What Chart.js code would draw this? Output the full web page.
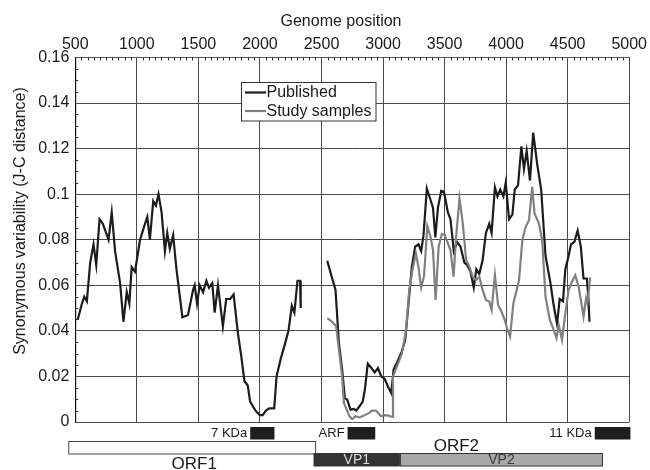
<!DOCTYPE html>
<html><head><meta charset="utf-8">
<script src="https://cdn.jsdelivr.net/npm/chart.js@4.4.0/dist/chart.umd.min.js"></script>
<style>html,body{margin:0;padding:0;background:#fff;}#wrap{width:650px;height:470px;}</style>
</head><body><div id="wrap"><canvas id="c" width="650" height="470"></canvas></div>
<script>
const FONT = '"Liberation Sans", Arial, Helvetica, sans-serif';
const xTitle = 'Genome position';
const yTitle = 'Synonymous variability (J-C distance)';
const seriesNames = ['Published', 'Study samples'];

const publishedPos = [519,554,573,594,621,648,670,697,724,770,
796,823,864,891,918,939,958,985,1026,1066,
1085,1106,1133,1155,1176,1201,1228,1247,1268,1295,
1322,1370,1416,1457,1470,1489,1511,1538,1565,1586,
1613,1632,1659,1699,1726,1759,1786,1821,1848,1874,
1901,1920,1941,1968,2000,2022,2049,2075,2116,2135,
2170,2197,2232,2259,2280,2305,2326,2331,2440,2547,
2582,2614,2641,2668,2690,2709,2736,2763,2782,2809,
2835,2852,2876,2906,2932,2959,2986,3013,3040,3067,
3086,3113,3153,3180,3207,3234,3261,3288,3310,3329,
3356,3383,3406,3425,3446,3473,3495,3527,3548,3575,
3602,3629,3661,3683,3710,3737,3758,3782,3809,3836,
3863,3882,3909,3930,3952,3978,3997,4024,4051,4070,
4097,4124,4145,4167,4194,4220,4253,4285,4320,4360,
4387,4414,4435,4462,4481,4508,4527,4554,4581,4607,
4629,4656,4669,4677];
const publishedVal = [.0448,.052,.055,.053,.070,.078,.069,.089,.087,.080,
.092,.075,.061,.044,.057,.052,.068,.066,.080,.087,
.090,.080,.097,.095,.100,.092,.075,.083,.076,.082,
.067,.046,.047,.058,.060,.052,.060,.057,.062,.059,
.061,.048,.060,.042,.054,.054,.056,.039,.029,.018,
.016,.009,.007,.0047,.003,.003,.005,.006,.006,.020,
.028,.033,.040,.051,.048,.062,.062,.050,null,.0708,
.064,.058,.035,.023,.0105,.0098,.0054,.0057,.005,.0069,
.009,.014,.0256,.0237,.0218,.0237,.020,.019,.0156,.0127,
.023,.026,.031,.036,.052,.068,.077,.078,.075,.082,
.1025,.098,.094,.081,.094,.1015,.101,.092,.089,.075,
.079,.077,.070,.069,.066,.059,.067,.065,.071,.083,
.087,.083,.103,.099,.102,.099,.105,.089,.091,.102,
.104,.121,.111,.119,.106,.127,.113,.102,.073,.061,
.051,.043,.054,.053,.067,.073,.078,.079,.084,.077,
.063,.063,.054,.044];

const studyPos = [2547,2587,2619,2641,2668,2682,2701,2728,2749,2776,
2809,2844,2884,2911,2943,2965,2986,3013,3046,3073,
3081,3113,3153,3186,3213,3240,3267,3288,3310,3333,
3360,3387,3406,3427,3452,3478,3500,3527,3548,3573,
3594,3621,3648,3675,3702,3728,3755,3782,3809,3836,
3863,3882,3909,3935,3962,3989,4011,4032,4059,4086,
4105,4132,4159,4186,4212,4231,4266,4293,4320,4355,
4387,4409,4427,4454,4481,4508,4535,4562,4589,4616,
4629,4650,4661,4683];
const studyVal = [.0456,.044,.042,.032,.020,.0083,.006,.0025,.0013,.0025,
.002,.0028,.0039,.005,.005,.0036,.0025,.003,.0028,.0022,
.020,.0244,.030,.040,.058,.067,.074,.068,.059,.064,
.086,.081,.0755,.0536,.077,.0825,.0823,.0784,.0755,.0638,
.0813,.0981,.0872,.0711,.0682,.0638,.0623,.0638,.058,.0536,
.0529,.0492,.0645,.0514,.0485,.0448,.0404,.0375,.0521,.058,
.0623,.0799,.0857,.0886,.1032,.0915,.0872,.0799,.055,.0448,
.0404,.0368,.0426,.0361,.0477,.058,.0616,.0644,.0594,.0507,
.0463,.0543,.0521,.0635];

// genome features (genome coordinates)
const proteinNames = ['7 KDa', 'ARF', '11 KDa'];
const proteinStart = [1921, 2712, 4720];
const proteinEnd = [2118, 2937, 5010];
const orf1Name = 'ORF1';
const orf1Span = [443, 2456];
const orf2Name = 'ORF2';
const capsidNames = ['VP1', 'VP2'];
const capsidStart = [2437, 3137];
const capsidEnd = [3137, 4787];

const toPts = (xs, ys) => xs.map((x, i) => ({x: x, y: ys[i]}));

const extras = {
  id: 'extras',
  afterDraw(chart) {
    const ctx = chart.ctx, a = chart.chartArea, xs = chart.scales.x, ys = chart.scales.y;
    ctx.save();
    // minor ticks
    ctx.strokeStyle = '#333'; ctx.lineWidth = 1;
    ctx.beginPath();
    for (let g = 550; g < 5000; g += 50) {
      if (g % 500 === 0) continue;
      const px = Math.round(xs.getPixelForValue(g)) + 0.5;
      ctx.moveTo(px, a.top); ctx.lineTo(px, a.top + 3);
    }
    for (let k = 1; k < 32; k++) {
      if (k % 4 === 0) continue;
      const py = Math.round(ys.getPixelForValue(k * 0.005)) + 0.5;
      ctx.moveTo(a.left, py); ctx.lineTo(a.left + 3, py);
    }
    ctx.stroke();
    // titles
    ctx.fillStyle = '#1a1a1a';
    ctx.font = '16px ' + FONT;
    ctx.textAlign = 'center'; ctx.textBaseline = 'alphabetic';
    ctx.fillText(xTitle, 341, 26);
    ctx.save();
    ctx.translate(21, 221);
    ctx.rotate(-Math.PI / 2);
    ctx.textBaseline = 'middle';
    ctx.fillText(yTitle, 0, 0);
    ctx.restore();
    // legend
    const lx = 241.5, ly = 82.5, lw = 134.5, lh = 38.5;
    ctx.fillStyle = '#fff'; ctx.fillRect(lx, ly, lw, lh);
    ctx.strokeStyle = '#333'; ctx.lineWidth = 1; ctx.strokeRect(lx, ly, lw, lh);
    const ds = chart.data.datasets;
    [92.5, 111].forEach((yy, i) => {
      ctx.strokeStyle = ds[i].borderColor; ctx.lineWidth = 2.2;
      ctx.beginPath(); ctx.moveTo(245, yy); ctx.lineTo(266, yy); ctx.stroke();
      ctx.fillStyle = '#1a1a1a'; ctx.font = '16px ' + FONT;
      ctx.textAlign = 'left'; ctx.textBaseline = 'middle';
      ctx.fillText(ds[i].label, 266.5, yy + 0.5);
    });
    // protein boxes
    ctx.font = '13px ' + FONT;
    proteinNames.forEach((n, i) => {
      const x0 = xs.getPixelForValue(proteinStart[i]), x1 = xs.getPixelForValue(proteinEnd[i]);
      ctx.fillStyle = '#1e1e1e'; ctx.fillRect(x0, 427, x1 - x0, 12.5);
      ctx.fillStyle = '#1a1a1a'; ctx.textAlign = 'right'; ctx.textBaseline = 'middle';
      ctx.fillText(n, x0 - 3, 433.5);
    });
    // ORF1
    const o0 = xs.getPixelForValue(orf1Span[0]), o1 = xs.getPixelForValue(orf1Span[1]);
    ctx.fillStyle = '#fff'; ctx.fillRect(o0, 441.5, o1 - o0, 12.5);
    ctx.strokeStyle = '#444'; ctx.lineWidth = 1; ctx.strokeRect(o0 + 0.5, 441.5, o1 - o0 - 1, 12.5);
    ctx.fillStyle = '#1a1a1a'; ctx.font = '17px ' + FONT; ctx.textAlign = 'center'; ctx.textBaseline = 'alphabetic';
    ctx.fillText(orf1Name, (o0 + o1) / 2 + 2, 469);
    // capsid
    const cFill = ['#333333', '#a8a8a8'], cText = ['#d8d8d8', '#3a3a3a'];
    capsidNames.forEach((n, i) => {
      const x0 = xs.getPixelForValue(capsidStart[i]), x1 = xs.getPixelForValue(capsidEnd[i]);
      ctx.fillStyle = cFill[i]; ctx.fillRect(x0, 453.5, x1 - x0, 12.5);
      ctx.strokeStyle = '#333'; ctx.lineWidth = 1; ctx.strokeRect(x0 + 0.5, 453.5, x1 - x0 - 1, 12.5);
      ctx.fillStyle = cText[i]; ctx.font = '14px ' + FONT; ctx.textAlign = 'center'; ctx.textBaseline = 'middle';
      ctx.fillText(n, (x0 + x1) / 2, 460.5);
    });
    const c0 = xs.getPixelForValue(capsidStart[0]), c1 = xs.getPixelForValue(capsidEnd[1]);
    ctx.fillStyle = '#1a1a1a'; ctx.font = '17px ' + FONT; ctx.textAlign = 'center'; ctx.textBaseline = 'alphabetic';
    ctx.fillText(orf2Name, (c0 + c1) / 2 - 2, 451);
    ctx.restore();
  }
};

new Chart(document.getElementById('c').getContext('2d'), {
  type: 'scatter',
  data: {
    datasets: [
      {label: seriesNames[0], data: toPts(publishedPos, publishedVal), showLine: true, spanGaps: false,
       borderColor: '#1c1c1c', backgroundColor: '#1c1c1c', borderWidth: 2.2, pointRadius: 0, tension: 0, order: 1},
      {label: seriesNames[1], data: toPts(studyPos, studyVal), showLine: true, spanGaps: false,
       borderColor: '#808080', backgroundColor: '#808080', borderWidth: 2.2, pointRadius: 0, tension: 0, order: 0}
    ]
  },
  options: {
    responsive: false, animation: false, devicePixelRatio: 1,
    layout: {padding: {left: 0, right: 19, top: 0, bottom: 48}},
    plugins: {legend: {display: false}, tooltip: {enabled: false}},
    scales: {
      x: {type: 'linear', position: 'top', min: 500, max: 5000,
          ticks: {stepSize: 500, autoSkip: false, maxRotation: 0, color: '#1a1a1a', padding: 3,
                  font: {size: 16, family: FONT}, callback: v => String(v)},
          grid: {color: '#4a4a4a', lineWidth: 1, drawTicks: false},
          border: {color: '#555', width: 1},
          afterFit(s) { s.height = 57.5; }},
      y: {min: 0, max: 0.16,
          ticks: {stepSize: 0.02, color: '#1a1a1a', padding: 6, font: {size: 16, family: FONT},
                  callback: v => String(+v.toFixed(2))},
          grid: {color: '#4a4a4a', lineWidth: 1, drawTicks: false},
          border: {color: '#111', width: 1.2},
          afterFit(s) { s.width = 75.3; }}
    }
  },
  plugins: [extras]
});
</script></body></html>
